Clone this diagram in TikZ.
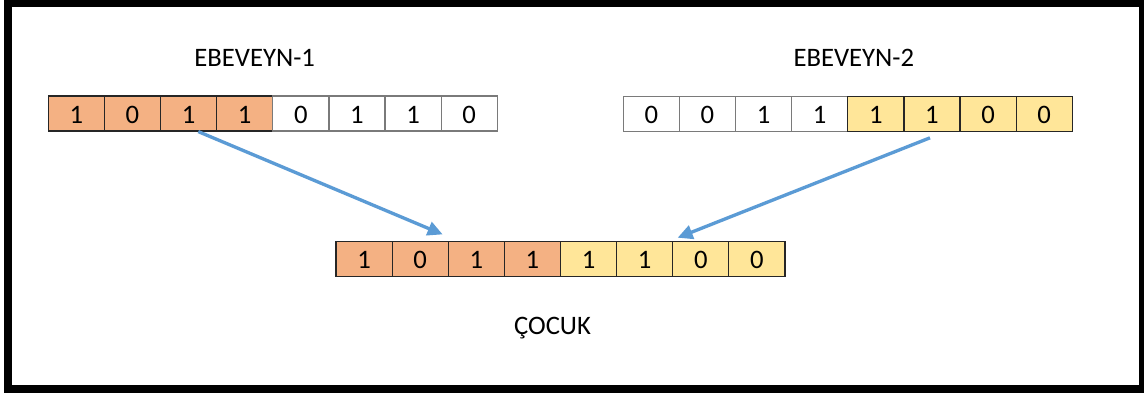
\documentclass[tikz,border=0pt]{standalone}
\usepackage{fontspec}
\setmainfont{Carlito}
\usetikzlibrary{arrows.meta}
\definecolor{bitorange}{HTML}{F4B183}
\definecolor{bityellow}{HTML}{FFE699}
\definecolor{arrowblue}{HTML}{5B9BD5}
\definecolor{cellline}{HTML}{262626}
\definecolor{plainline}{HTML}{7A7A7A}
% one drawing unit = 0.75pt
\tikzset{
  bit/.style={minimum width=42.094pt, minimum height=26.25pt, inner sep=0pt,
    line width=0.9pt, font=\fontsize{20}{24}\selectfont,
    text height=14.6pt, text depth=0pt},
  orangebit/.style={bit, fill=bitorange, draw=cellline},
  yellowbit/.style={bit, fill=bityellow, draw=cellline},
  plainbit/.style={bit, fill=white, draw=plainline},
  title/.style={font=\fontsize{20}{24}\selectfont, anchor=base, inner sep=0pt},
  flow/.style={draw=arrowblue, line width=2.5pt,
    -{Triangle[length=11.25pt,width=10.5pt]}},
}
\begin{document}
\begin{tikzpicture}[x=0.75pt, y=-0.75pt]
\useasboundingbox (0,0) rectangle (1144,394);
\fill[white] (0,0) rectangle (1144,394);
% outer frame
\draw[line width=6pt] (8.3,2.7) rectangle (1143.3,388.7);

% parent 1
\foreach \b [count=\i] in {1,0,1,1,0,1,1,0} {
  \pgfmathsetmacro{\cx}{48.3+(\i-0.5)*56.125}
  \ifnum\i<5
    \node[orangebit] (p1c\i) at (\cx,113.5) {\b};
  \else
    \node[plainbit] (p1c\i) at (\cx,113.5) {\b};
  \fi
}
% parent 2
\foreach \b [count=\i] in {0,0,1,1,1,1,0,0} {
  \pgfmathsetmacro{\cx}{623.3+(\i-0.5)*56.125}
  \ifnum\i<5
    \node[plainbit] (p2c\i) at (\cx,114) {\b};
  \else
    \node[yellowbit] (p2c\i) at (\cx,114) {\b};
  \fi
}
% child
\foreach \b [count=\i] in {1,0,1,1,1,1,0,0} {
  \pgfmathsetmacro{\cx}{336+(\i-0.5)*56.125}
  \ifnum\i<5
    \node[orangebit] (ch\i) at (\cx,259.2) {\b};
  \else
    \node[yellowbit] (ch\i) at (\cx,259.2) {\b};
  \fi
}

% labels
\node[title] (lp1) at (254.7,66) {EBEVEYN-1};
\node[title] (lp2) at (853.8,66) {EBEVEYN-2};
\node[title] (lch) at (552.5,334.7) {ÇOCUK};

% inheritance arrows
\draw[flow] ([shift={(9.7,0)}]p1c3.south) -- ([shift={(-5,-6.7)}]ch3.north west);
\draw[flow] ([shift={(-2,5.7)}]p2c6.south) -- ([shift={(5.5,-3.4)}]ch7.north west);
\end{tikzpicture}
\end{document}
